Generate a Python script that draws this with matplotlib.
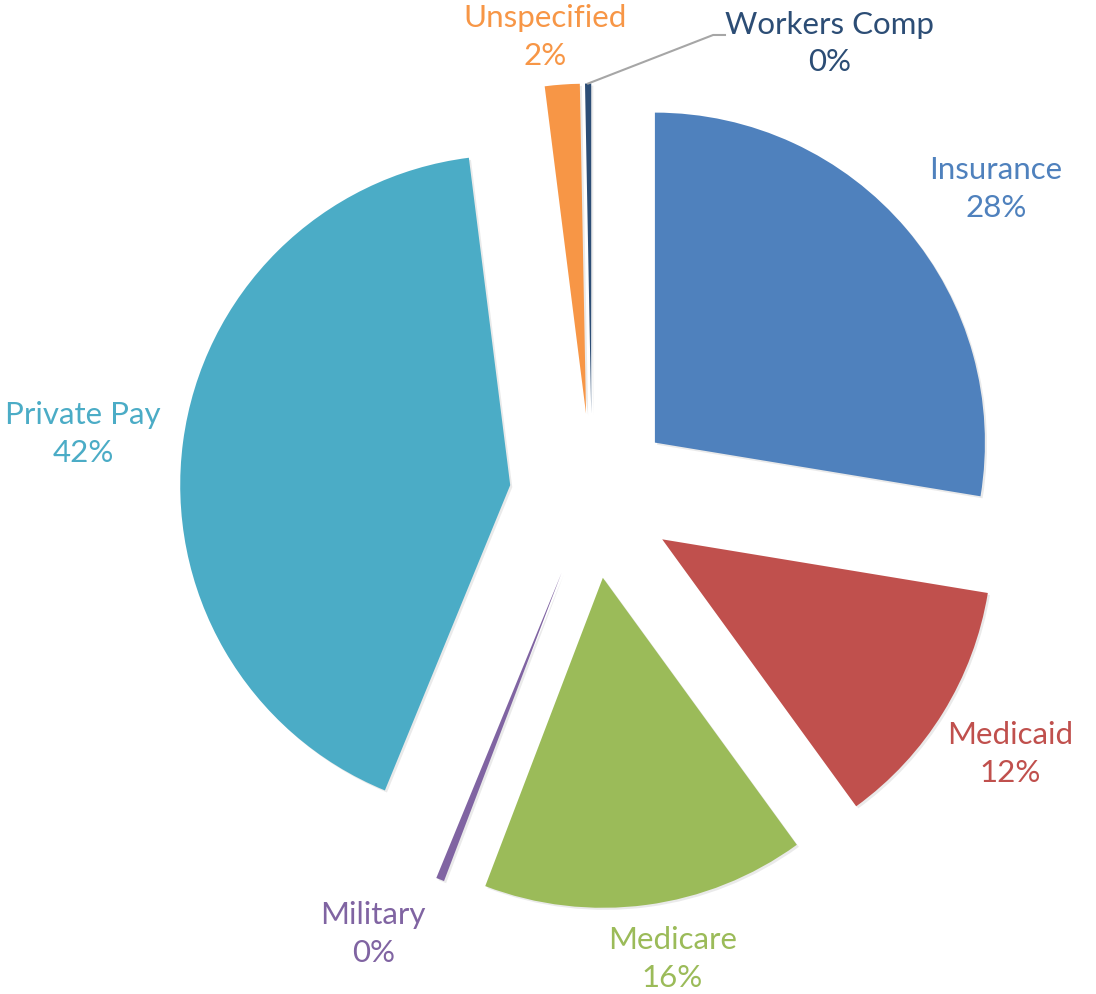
import numpy as np
import matplotlib.pyplot as plt
import matplotlib.patheffects as pe

labels = ["Insurance", "Medicaid", "Medicare", "Military", "Private Pay", "Unspecified", "Workers Comp"]
shares = [27.6, 12.4, 15.8, 0.4, 41.8, 1.7, 0.3]
pct_text = ["28%", "12%", "16%", "0%", "42%", "2%", "0%"]
colors = ["#4F81BD", "#C0504D", "#9BBB59", "#8064A2", "#4BACC6", "#F79646", "#2C4D75"]

# label placement: distance from pie centre (in radii) and angle nudge (deg)
lab_dist = [1.539, 1.487, 1.421, 1.481, 1.554, 1.401, 1.551]
lab_nudge = [-3.0, 0.1, 2.3, -5.0, 0.5, 1.7, -28.2]

plt.rcParams['font.family'] = ['Lato', 'DejaVu Sans']

fig = plt.figure(figsize=(10.96, 9.95), dpi=100)
ax = fig.add_axes([0, 0, 1, 1])

wedges, _ = ax.pie(shares, colors=colors, startangle=90, counterclock=False,
                   explode=[0.25] * len(shares), radius=1.0,
                   wedgeprops=dict(linewidth=0))
for w in wedges:
    w.set_path_effects([pe.SimplePatchShadow(offset=(1.5, -1.5), shadow_rgbFace='#999999', alpha=0.2),
                        pe.Normal()])

for i, w in enumerate(wedges):
    mid = np.deg2rad((w.theta1 + w.theta2) / 2 + lab_nudge[i])
    x = lab_dist[i] * np.cos(mid)
    y = lab_dist[i] * np.sin(mid)
    ax.text(x, y, labels[i] + "\n" + pct_text[i], color=colors[i], fontsize=22.5,
            ha='center', va='center', linespacing=1.4)

# leader line for the tiny Workers Comp slice
wc = wedges[-1]
a = np.deg2rad((wc.theta1 + wc.theta2) / 2)
tip = (wc.center[0] + 1.0 * np.cos(a), wc.center[1] + 1.0 * np.sin(a))
ax.plot([tip[0], 0.367, 0.403], [tip[1], 1.397, 1.397], color='#A6A6A6', lw=1.5)

ax.set_xlim(-592 / 330, (1096 - 592) / 330)
ax.set_ylim(-(995 - 497) / 330, 497 / 330)
ax.set_aspect('equal')
ax.axis('off')

fig.savefig('out.png', dpi=100, facecolor='white')
